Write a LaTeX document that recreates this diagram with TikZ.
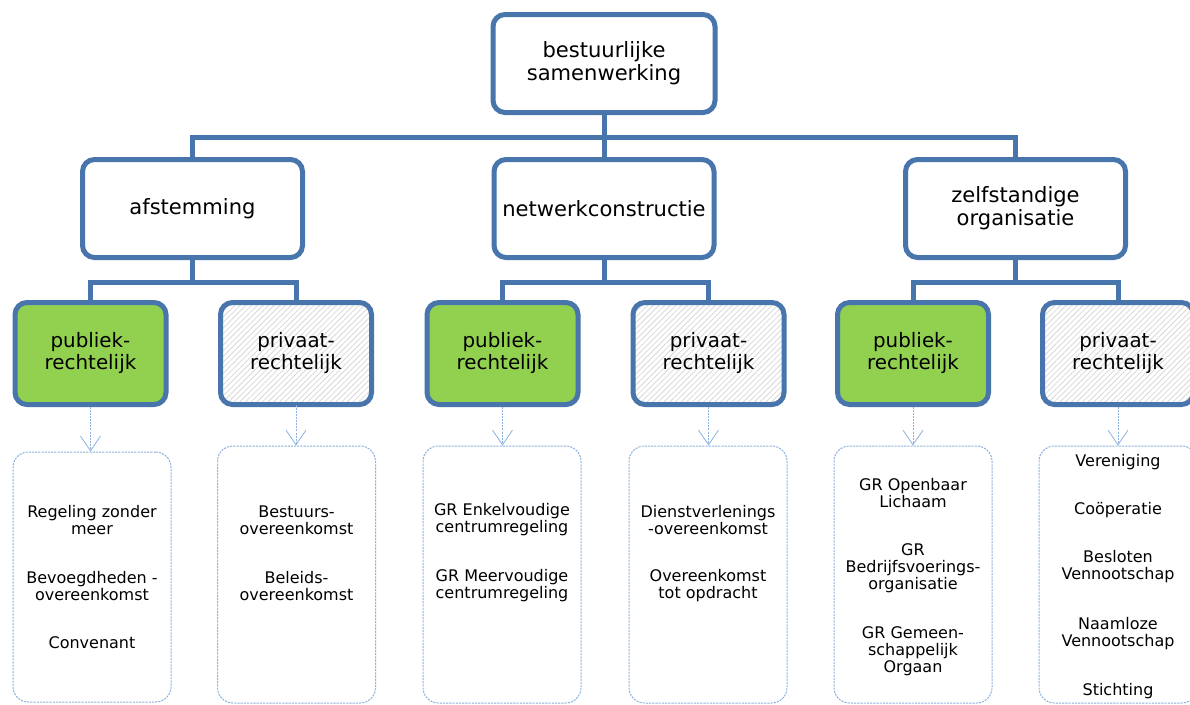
\documentclass[tikz,border=0pt]{standalone}
\usepackage{fontspec}
\setmainfont{DejaVu Sans}
\usetikzlibrary{arrows.meta,patterns.meta}
\definecolor{boxblue}{RGB}{72,117,172}
\definecolor{lightblue}{RGB}{141,178,222}
\definecolor{pubgreen}{RGB}{146,208,80}
\tikzset{
  mainbox/.style={draw=boxblue, line width=3.75pt, rounded corners=9pt, fill=white,
    align=center, inner sep=0pt, text=black},
  topbox/.style={mainbox, minimum width=166.5pt, minimum height=73.5pt,
    font=\fontsize{15.8}{17.3}\selectfont},
  catbox/.style={topbox, minimum width=165pt},
  pubbox/.style={mainbox, fill=pubgreen, minimum width=113.25pt, minimum height=76.5pt,
    font=\fontsize{14.9}{16.5}\selectfont},
  privbox/.style={pubbox, fill=none, preaction={fill=white},
    pattern={Lines[angle=45,distance=3pt,line width=0.6pt]}, pattern color=gray!30},
  listbox/.style={draw=lightblue, line width=0.75pt, dash pattern=on 1.6pt off 0.8pt,
    rounded corners=11.5pt, minimum width=118.5pt, inner sep=0pt},
  item/.style={align=center, font=\fontsize{12}{12.8}\selectfont, inner sep=0pt},
  conn/.style={draw=boxblue, line width=3.75pt},
  arr/.style={draw=lightblue, line width=0.6pt, dash pattern=on 1.5pt off 0.8pt,
    -{Straight Barb[length=11pt,width=15pt,line width=0.6pt]}},
}
\begin{document}
\begin{tikzpicture}[x=0.75pt,y=-0.75pt]
\clip (0,0) rectangle (1190,704);
\fill[white] (0,0) rectangle (1190,704);

\coordinate (bus1) at (0,137);
\coordinate (bus2) at (0,282);

% level 1
\node[topbox] (top) at (604,63.5) {bestuurlijke\\samenwerking};
% level 2
\node[catbox] (a) at (192.5,208.5) {afstemming};
\node[catbox] (n) at (604,208.5) {netwerkconstructie};
\node[catbox] (z) at (1015.5,208.5) {zelfstandige\\organisatie};
% level 3
\node[pubbox] (p1) at (90.5,353.5) {publiek-\\rechtelijk};
\node[privbox] (q1) at (296,353.5) {privaat-\\rechtelijk};
\node[pubbox] (p2) at (502.5,353.5) {publiek-\\rechtelijk};
\node[privbox] (q2) at (708.5,353.5) {privaat-\\rechtelijk};
\node[pubbox] (p3) at (913,353.5) {publiek-\\rechtelijk};
\node[privbox] (q3) at (1118,353.5) {privaat-\\rechtelijk};

% connectors
\draw[conn] (top.south) -- (top.south |- bus1) -| (a.north);
\draw[conn] (top.south) -- (n.north);
\draw[conn] (top.south) -- (top.south |- bus1) -| (z.north);
\draw[conn] (a.south) -- (a.south |- bus2) -| (p1.north);
\draw[conn] (a.south) -- (a.south |- bus2) -| (q1.north);
\draw[conn] (n.south) -- (n.south |- bus2) -| (p2.north);
\draw[conn] (n.south) -- (n.south |- bus2) -| (q2.north);
\draw[conn] (z.south) -- (z.south |- bus2) -| (p3.north);
\draw[conn] (z.south) -- (z.south |- bus2) -| (q3.north);

% list boxes
\node[listbox, minimum height=187.5pt] (b1) at (92,577) {};
\node[listbox, minimum height=192.75pt] (b2) at (296.5,574.5) {};
\node[listbox, minimum height=192.75pt] (b3) at (502,574.5) {};
\node[listbox, minimum height=192.75pt] (b4) at (708,574.5) {};
\node[listbox, minimum height=192.75pt] (b5) at (913,574.5) {};
\node[listbox, minimum height=192.75pt] (b6) at (1118,574.5) {};

% arrows
\draw[arr] (p1.south) -- (p1.south |- b1.north);
\draw[arr] (q1.south) -- (q1.south |- b2.north);
\draw[arr] (p2.south) -- (p2.south |- b3.north);
\draw[arr] (q2.south) -- (q2.south |- b4.north);
\draw[arr] (p3.south) -- (p3.south |- b5.north);
\draw[arr] (q3.south) -- (q3.south |- b6.north);

% list items
\node[item] (i11) at (92,520) {Regeling zonder\\meer};
\node[item] (i12) at (92,586) {Bevoegdheden -\\overeenkomst};
\node[item] (i13) at (92,643) {Convenant};

\node[item] (i21) at (296.5,520) {Bestuurs-\\overeenkomst};
\node[item] (i22) at (296.5,586) {Beleids-\\overeenkomst};

\node[item] (i31) at (502,520) {GR Enkelvoudige\\centrumregeling};
\node[item] (i32) at (502,586) {GR Meervoudige\\centrumregeling};

\node[item] (i41) at (708,520) {Dienstverlenings\\-overeenkomst};
\node[item] (i42) at (708,586) {Overeenkomst\\tot opdracht};

\node[item] (i51) at (913,493) {GR Openbaar\\Lichaam};
\node[item] (i52) at (913,568) {GR\\Bedrijfsvoerings-\\organisatie};
\node[item] (i53) at (913,651) {GR Gemeen-\\schappelijk\\Orgaan};

\node[item] (i61) at (1118,462) {Vereniging};
\node[item] (i62) at (1118,510) {Coöperatie};
\node[item] (i63) at (1118,567) {Besloten\\Vennootschap};
\node[item] (i64) at (1118,634) {Naamloze\\Vennootschap};
\node[item] (i65) at (1118,691) {Stichting};
\end{tikzpicture}
\end{document}
